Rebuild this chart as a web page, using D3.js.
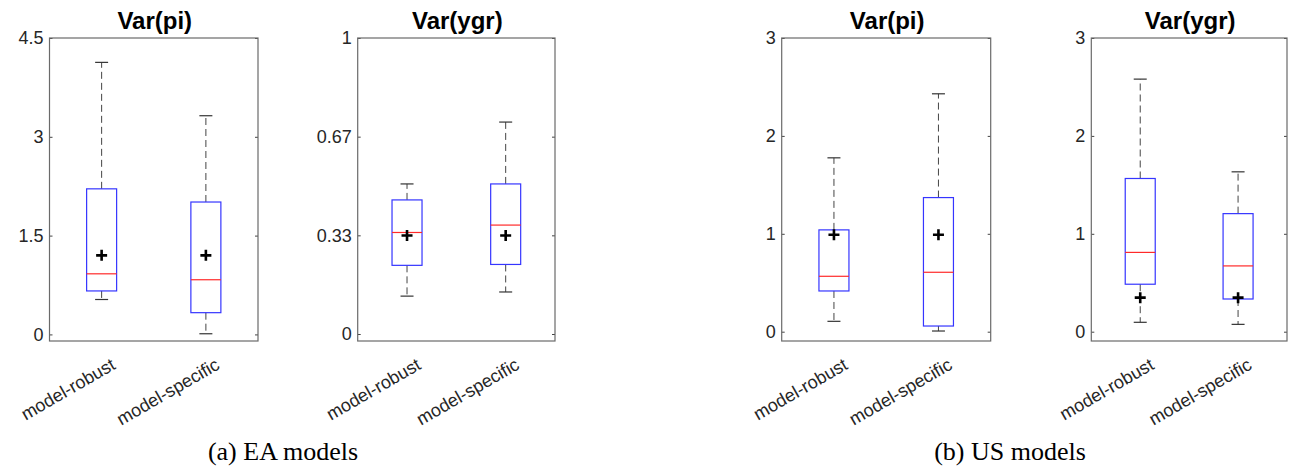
<!DOCTYPE html>
<html>
<head>
<meta charset="utf-8">
<script src="https://cdn.jsdelivr.net/npm/d3@7"></script>
<style>
  body { margin: 0; background: #fff; }
</style>
</head>
<body>
<div id="chart"></div>
<script>
// box-plot statistics, one row per panel, [model-robust, model-specific]
const categories = ["model-robust", "model-specific"];
const panelTitles = ["Var(pi)", "Var(ygr)", "Var(pi)", "Var(ygr)"];
const whiskerLow  = [[0.53, 0.01], [0.128, 0.142], [0.106, 0.007], [0.096, 0.075]];
const q1          = [[0.66, 0.33], [0.232, 0.235], [0.416, 0.058], [0.485, 0.334]];
const medians     = [[0.92, 0.83], [0.343, 0.368], [0.566, 0.607], [0.81, 0.672]];
const q3          = [[2.21, 2.01], [0.453, 0.507], [1.04, 1.37], [1.565, 1.206]];
const whiskerHigh = [[4.13, 3.32], [0.507, 0.716], [1.776, 2.43], [2.58, 1.633]];
const means       = [[1.2, 1.2], [0.333, 0.333], [0.99, 0.99], [0.348, 0.348]];
const yTicks = [[0, 1.5, 3, 4.5], [0, 1 / 3, 2 / 3, 1], [0, 1, 2, 3], [0, 1, 2, 3]];
const yTickLabels = [["0", "1.5", "3", "4.5"], ["0", "0.33", "0.67", "1"], ["0", "1", "2", "3"], ["0", "1", "2", "3"]];
const yLimits = [[-0.1, 4.5], [-0.0236, 1], [-0.095, 3], [-0.095, 3]];
const captions = ["(a) EA models", "(b) US models"];

const width = 1289, height = 466;
const plotTop = 38, plotBottom = 341;
const frames = [[49.5, 258], [357.7, 555], [781.7, 990.7], [1091.3, 1287]];
const captionX = [283, 1010];
const sans = "'Liberation Sans', Arial, sans-serif";

const svg = d3.select("#chart")
  .append("svg")
  .attr("width", width)
  .attr("height", height);

frames.forEach(([x0, x1], p) => {
  const y = d3.scaleLinear().domain(yLimits[p]).range([plotBottom, plotTop]);
  const x = d3.scaleLinear().domain([0.5, 2.5]).range([x0, x1]);
  const w = x1 - x0;
  const boxW = 30, capW = 13;

  const g = svg.append("g");

  // left axis with inward ticks
  g.append("g")
    .attr("transform", `translate(${x0},0)`)
    .call(d3.axisLeft(y).tickValues(yTicks[p])
      .tickFormat((d, i) => yTickLabels[p][i])
      .tickSizeInner(-3).tickSizeOuter(0).tickPadding(6))
    .call(a => a.select(".domain").remove())
    .call(a => a.selectAll("line").attr("stroke", "#444"))
    .call(a => a.selectAll("text").attr("font-size", 18).attr("fill", "#262626")
      .attr("font-family", sans));

  // right ticks
  g.append("g")
    .attr("transform", `translate(${x1},0)`)
    .call(d3.axisRight(y).tickValues(yTicks[p]).tickFormat("")
      .tickSizeInner(-3).tickSizeOuter(0))
    .call(a => a.select(".domain").remove())
    .call(a => a.selectAll("line").attr("stroke", "#444"));

  // frame
  g.append("rect")
    .attr("x", x0).attr("y", plotTop)
    .attr("width", w).attr("height", plotBottom - plotTop)
    .attr("fill", "none").attr("stroke", "#6a6a6a").attr("stroke-width", 1.2);

  // title
  g.append("text")
    .attr("x", (x0 + x1) / 2 + 1).attr("y", 29)
    .attr("text-anchor", "middle")
    .attr("font-family", sans)
    .attr("font-size", 24).attr("font-weight", "bold")
    .attr("fill", "#000")
    .text(panelTitles[p]);

  categories.forEach((c, i) => {
    const cx = x(i + 1);
    const bg = g.append("g");

    // whiskers
    bg.append("line")
      .attr("x1", cx).attr("x2", cx)
      .attr("y1", y(q3[p][i])).attr("y2", y(whiskerHigh[p][i]))
      .attr("stroke", "#444").attr("stroke-dasharray", "7,4");
    bg.append("line")
      .attr("x1", cx).attr("x2", cx)
      .attr("y1", y(q1[p][i])).attr("y2", y(whiskerLow[p][i]))
      .attr("stroke", "#444").attr("stroke-dasharray", "7,4");
    [whiskerHigh[p][i], whiskerLow[p][i]].forEach(v => {
      bg.append("line")
        .attr("x1", cx - capW / 2).attr("x2", cx + capW / 2)
        .attr("y1", y(v)).attr("y2", y(v))
        .attr("stroke", "#333").attr("stroke-width", 1.2);
    });

    // box
    bg.append("rect")
      .attr("x", cx - boxW / 2).attr("y", y(q3[p][i]))
      .attr("width", boxW).attr("height", y(q1[p][i]) - y(q3[p][i]))
      .attr("fill", "none").attr("stroke", "#3535ff").attr("stroke-width", 1.2);

    // median
    bg.append("line")
      .attr("x1", cx - boxW / 2).attr("x2", cx + boxW / 2)
      .attr("y1", y(medians[p][i])).attr("y2", y(medians[p][i]))
      .attr("stroke", "#ff2a2a").attr("stroke-width", 1.2);

    // mean marker
    const my = y(means[p][i]);
    bg.append("path")
      .attr("d", `M${cx - 5.5},${my}H${cx + 5.5}M${cx},${my - 5.5}V${my + 5.5}`)
      .attr("stroke", "#000").attr("stroke-width", 2.6);

    // rotated category label
    g.append("text")
      .attr("transform", `translate(${cx + 8.5},${357}) rotate(-30)`)
      .attr("text-anchor", "end")
      .attr("y", "0.72em")
      .attr("font-family", sans)
      .attr("font-size", 18)
      .attr("fill", "#262626")
      .text(c);
  });
});

// captions
svg.selectAll("text.caption")
  .data(captions)
  .join("text")
  .attr("class", "caption")
  .attr("x", (d, i) => captionX[i])
  .attr("y", 460)
  .attr("text-anchor", "middle")
  .attr("font-size", 26)
  .attr("font-family", "'Liberation Serif', 'Times New Roman', serif")
  .attr("fill", "#000")
  .text(d => d);
</script>
</body>
</html>
